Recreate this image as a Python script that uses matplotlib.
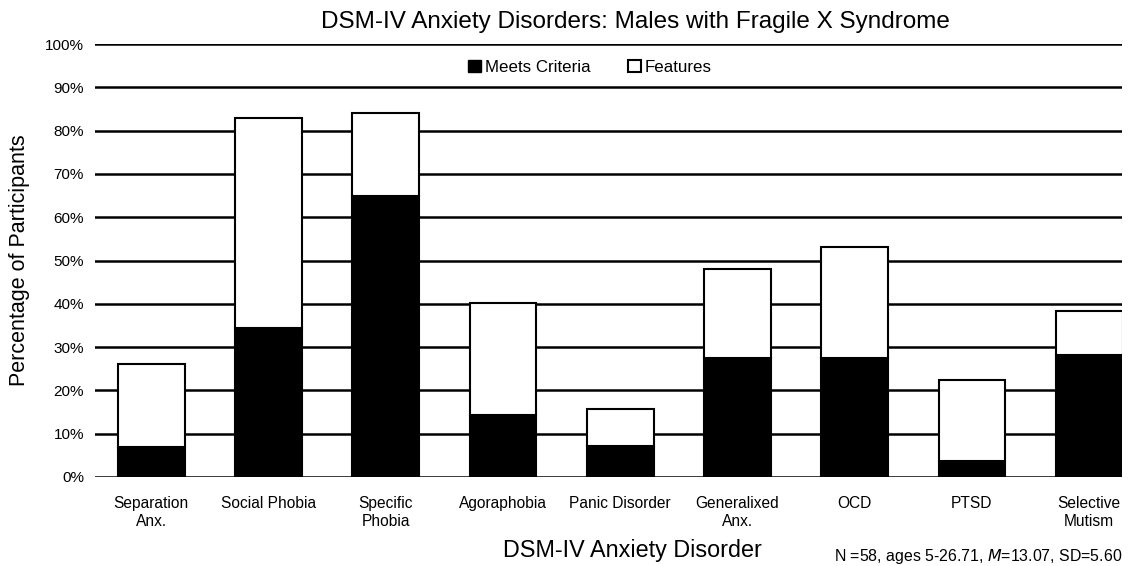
import matplotlib
matplotlib.use("Agg")
from matplotlib import pyplot as plt
from matplotlib.patches import Patch
import numpy as np

plt.rcParams['font.family'] = ['Liberation Sans', 'DejaVu Sans']

categories = ['Separation\nAnx.', 'Social Phobia', 'Specific\nPhobia', 'Agoraphobia',
              'Panic Disorder', 'Generalixed\nAnx.', 'OCD', 'PTSD', 'Selective\nMutism']
meets = [6.9, 34.5, 65.0, 14.3, 7.2, 27.5, 27.5, 3.7, 28.2]
totals = [26.0, 82.9, 84.0, 40.1, 15.7, 48.0, 53.1, 22.4, 38.4]
features = [t - m for t, m in zip(totals, meets)]

fig = plt.figure(figsize=(11.4, 5.66), dpi=100)
ax = fig.add_axes([95/1140, 1 - 477/566, 1027/1140, 433/566])

x = np.arange(len(categories))
w = 0.57
ax.set_ylim(0, 100)
ax.set_xlim(-0.48, 8.28)

# horizontal gridlines drawn as black rules
for yv in range(0, 101, 10):
    ax.axhline(yv, color='black', lw=1.8, zorder=1)

ax.bar(x, meets, width=w, color='black', edgecolor='black', lw=1.5, zorder=3,
       label='Meets Criteria')
ax.bar(x, features, bottom=meets, width=w, color='white', edgecolor='black', lw=1.5,
       zorder=3, label='Features')

for s in ax.spines.values():
    s.set_visible(False)

ax.set_yticks(range(0, 101, 10))
ax.set_yticklabels([f'{v}%' for v in range(0, 101, 10)], fontsize=11)
ax.set_xticks(x)
ax.set_xticklabels(categories, fontsize=11.2)
ax.tick_params(axis='both', length=0, pad=8)
ax.tick_params(axis='x', pad=14)

fig.text(635/1140, 1 - 22/566, 'DSM-IV Anxiety Disorders: Males with Fragile X Syndrome',
         fontsize=17.5, ha='center', va='center')
ax.set_ylabel('Percentage of Participants', fontsize=15.5, labelpad=11)
fig.text(632/1140, 1 - 551/566, 'DSM-IV Anxiety Disorder', fontsize=16.8, ha='center', va='center')
fig.text(1122/1140, 1 - 556/566, 'N =58, ages 5-26.71, $\\it{M}$=13.07, SD=5.60',
         fontsize=11.4, ha='right', va='center')

handles = [Patch(facecolor='black', edgecolor='black', label='Meets Criteria'),
           Patch(facecolor='white', edgecolor='black', lw=1.5, label='Features')]
leg = ax.legend(handles=handles, loc='upper center', bbox_to_anchor=(0.482, 0.995), ncol=2,
                frameon=True, facecolor='white', edgecolor='none', framealpha=1,
                fontsize=12.2, handlelength=0.75, handleheight=0.75, handletextpad=0.25,
                columnspacing=2.2, borderpad=0.3)
leg.set_zorder(5)

fig.savefig('out.png', dpi=100)
